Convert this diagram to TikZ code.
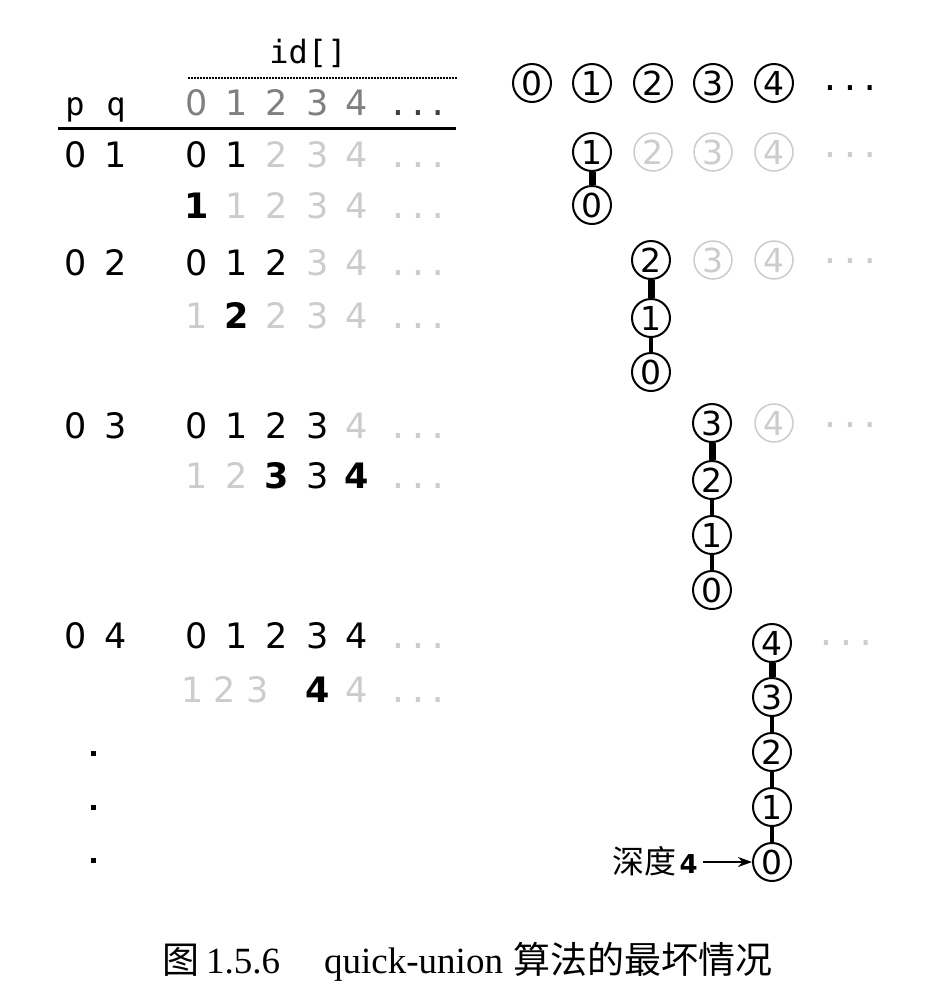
\documentclass[tikz,border=0pt]{standalone}
\usepackage{fontspec}
\usepackage{tikz}
\usetikzlibrary{backgrounds,arrows.meta}
\newfontfamily\tabsans{DejaVu Sans}
\newfontfamily\tabmono{DejaVu Sans Mono}
\newfontfamily\capserif{Liberation Serif}
\newfontfamily\cjk{Noto Sans CJK SC}
\definecolor{faintgray}{gray}{0.8}
\definecolor{headgray}{gray}{0.5}
\pgfdeclarelayer{edgelayer}
\pgfdeclarelayer{nodelayer}
\pgfsetlayers{edgelayer,nodelayer,main}
\tikzstyle{entry}=[anchor=base,inner sep=0pt,font=\tabsans\fontsize{35}{42}\selectfont]
\tikzstyle{faint}=[entry,text=faintgray]
\tikzstyle{changed}=[entry,font=\tabsans\bfseries\fontsize{35}{42}\selectfont]
\tikzstyle{headdigit}=[entry,text=headgray]
\tikzstyle{dots}=[anchor=base,inner sep=0pt,text=faintgray,font=\tabmono\fontsize{33}{40}\selectfont]
\tikzstyle{mono}=[anchor=base,inner sep=0pt,font=\tabmono\fontsize{32}{38}\selectfont]
\tikzstyle{site}=[circle,draw=black,fill=white,line width=2,minimum size=38,inner sep=0pt,font=\tabsans\fontsize{33}{40}\selectfont]
\tikzstyle{faintsite}=[site,draw=faintgray,text=faintgray,line width=1.5]
\tikzstyle{treedots}=[inner sep=0pt,font=\tabmono\fontsize{33}{40}\selectfont]
\tikzstyle{fainttreedots}=[treedots,text=faintgray]
\tikzstyle{vdot}=[rectangle,fill=black,minimum size=5,inner sep=0pt]
\tikzstyle{none}=[inner sep=0pt]
\tikzstyle{newlink}=[-,line width=7]
\tikzstyle{oldlink}=[-,line width=3.5]
\tikzstyle{rule}=[-,line width=3]
\tikzstyle{dotrule}=[-,line width=1.5,dash pattern=on 1.5 off 1.5]
\tikzstyle{depth}=[-{Stealth[length=14pt,width=10pt]},line width=2]
\tikzstyle{caption}=[anchor=base west,inner sep=0pt,font=\capserif\fontsize{37}{44}\selectfont]
\newcommand{\capcjk}{\cjk\fontsize{37}{44}\selectfont}

\begin{document}
\begin{tikzpicture}[x=1pt,y=-1pt]
	\useasboundingbox (0,0) rectangle (948,1005);
	\begin{pgfonlayer}{nodelayer}
		% table head
		\node [style=mono] (id) at (308, 63) {id[]};
		\node [style=none] (dotl) at (188, 78) {};
		\node [style=none] (dotr) at (457, 78) {};
		\node [style=mono] (p) at (75, 115) {p};
		\node [style=mono] (q) at (116, 115) {q};
		\node [style=headdigit] (h0) at (197, 115) {0};
		\node [style=headdigit] (h1) at (237, 115) {1};
		\node [style=headdigit] (h2) at (277, 115) {2};
		\node [style=headdigit] (h3) at (318, 115) {3};
		\node [style=headdigit] (h4) at (357, 115) {4};
		\node [style=dots,text=black!75] (hd) at (418, 115) {...};
		\node [style=none] (rulel) at (58, 128) {};
		\node [style=none] (ruler) at (456, 128) {};

		% 0 1
		\node [style=entry] (p1) at (76, 167) {0};
		\node [style=entry] (q1) at (116, 167) {1};
		\node [style=entry] (a10) at (197, 167) {0};
		\node [style=entry] (a11) at (237, 167) {1};
		\node [style=faint] (a12) at (277, 167) {2};
		\node [style=faint] (a13) at (318, 167) {3};
		\node [style=faint] (a14) at (357, 167) {4};
		\node [style=dots] (a1d) at (418, 167) {...};
		\node [style=changed] (b10) at (197, 218) {1};
		\node [style=faint] (b11) at (237, 218) {1};
		\node [style=faint] (b12) at (277, 218) {2};
		\node [style=faint] (b13) at (318, 218) {3};
		\node [style=faint] (b14) at (357, 218) {4};
		\node [style=dots] (b1d) at (418, 218) {...};

		% 0 2
		\node [style=entry] (p2) at (76, 275) {0};
		\node [style=entry] (q2) at (116, 275) {2};
		\node [style=entry] (a20) at (197, 275) {0};
		\node [style=entry] (a21) at (237, 275) {1};
		\node [style=entry] (a22) at (277, 275) {2};
		\node [style=faint] (a23) at (318, 275) {3};
		\node [style=faint] (a24) at (357, 275) {4};
		\node [style=dots] (a2d) at (418, 275) {...};
		\node [style=faint] (b20) at (197, 328) {1};
		\node [style=changed] (b21) at (237, 328) {2};
		\node [style=faint] (b22) at (277, 328) {2};
		\node [style=faint] (b23) at (318, 328) {3};
		\node [style=faint] (b24) at (357, 328) {4};
		\node [style=dots] (b2d) at (418, 328) {...};

		% 0 3
		\node [style=entry] (p3) at (76, 438) {0};
		\node [style=entry] (q3) at (116, 438) {3};
		\node [style=entry] (a30) at (197, 438) {0};
		\node [style=entry] (a31) at (237, 438) {1};
		\node [style=entry] (a32) at (277, 438) {2};
		\node [style=entry] (a33) at (318, 438) {3};
		\node [style=faint] (a34) at (357, 438) {4};
		\node [style=dots] (a3d) at (418, 438) {...};
		\node [style=faint] (b30) at (197, 488) {1};
		\node [style=faint] (b31) at (237, 488) {2};
		\node [style=changed] (b32) at (277, 488) {3};
		\node [style=entry] (b33) at (318, 488) {3};
		\node [style=changed] (b34) at (357, 488) {4};
		\node [style=dots] (b3d) at (418, 488) {...};

		% 0 4
		\node [style=entry] (p4) at (76, 648) {0};
		\node [style=entry] (q4) at (116, 648) {4};
		\node [style=entry] (a40) at (197, 648) {0};
		\node [style=entry] (a41) at (237, 648) {1};
		\node [style=entry] (a42) at (277, 648) {2};
		\node [style=entry] (a43) at (318, 648) {3};
		\node [style=entry] (a44) at (357, 648) {4};
		\node [style=dots] (a4d) at (418, 648) {...};
		\node [style=faint] (b40) at (193, 702) {1};
		\node [style=faint] (b41) at (225, 702) {2};
		\node [style=faint] (b42) at (258, 702) {3};
		\node [style=changed] (b43) at (318, 702) {4};
		\node [style=faint] (b44) at (357, 702) {4};
		\node [style=dots] (b4d) at (418, 702) {...};

		\node [style=vdot] (v1) at (93, 753) {};
		\node [style=vdot] (v2) at (93, 807) {};
		\node [style=vdot] (v3) at (93, 860) {};

		% forests
		\node [style=site] (s0) at (532, 83) {0};
		\node [style=site] (s1) at (592, 83) {1};
		\node [style=site] (s2) at (653, 83) {2};
		\node [style=site] (s3) at (713, 83) {3};
		\node [style=site] (s4) at (774, 83) {4};
		\node [style=treedots] (sd) at (850, 88) {...};

		\node [style=site] (t11) at (592, 152) {1};
		\node [style=site] (t10) at (592, 205) {0};
		\node [style=faintsite] (g12) at (653, 152) {2};
		\node [style=faintsite] (g13) at (713, 152) {3};
		\node [style=faintsite] (g14) at (774, 152) {4};
		\node [style=fainttreedots] (gd1) at (850, 155) {...};

		\node [style=site] (t22) at (651, 260) {2};
		\node [style=site] (t21) at (651, 318) {1};
		\node [style=site] (t20) at (651, 372) {0};
		\node [style=faintsite] (g23) at (713, 260) {3};
		\node [style=faintsite] (g24) at (774, 260) {4};
		\node [style=fainttreedots] (gd2) at (850, 261) {...};

		\node [style=site] (t33) at (712, 423) {3};
		\node [style=site] (t32) at (712, 480) {2};
		\node [style=site] (t31) at (712, 535) {1};
		\node [style=site] (t30) at (712, 590) {0};
		\node [style=faintsite] (g34) at (774, 423) {4};
		\node [style=fainttreedots] (gd3) at (850, 425) {...};

		\node [style=site] (t44) at (772, 643) {4};
		\node [style=site] (t43) at (772, 697) {3};
		\node [style=site] (t42) at (772, 752) {2};
		\node [style=site] (t41) at (772, 807) {1};
		\node [style=site] (t40) at (772, 862) {0};
		\node [style=fainttreedots] (gd4) at (846, 643) {...};

		\node [style=none,anchor=base east] (dl) at (698, 873) {{\cjk\fontsize{32}{38}\selectfont 深度}\hspace{3pt}{\tabsans\bfseries\fontsize{26}{30}\selectfont 4}};
		\node [style=none] (dtail) at (703, 862) {};

		\node [style=caption] (cap) at (162, 973) {{\capcjk 图}\hspace{7pt}1.5.6\hspace{44pt}quick-union\hspace{10pt}{\capcjk 算法的最坏情况}};
	\end{pgfonlayer}
	\begin{pgfonlayer}{edgelayer}
		\draw [style=dotrule] (dotl.center) to (dotr.center);
		\draw [style=rule] (rulel.center) to (ruler.center);
		\draw [style=newlink] (t11) to (t10);
		\draw [style=newlink] (t22) to (t21);
		\draw [style=oldlink] (t21) to (t20);
		\draw [style=newlink] (t33) to (t32);
		\draw [style=oldlink] (t32) to (t31);
		\draw [style=oldlink] (t31) to (t30);
		\draw [style=newlink] (t44) to (t43);
		\draw [style=oldlink] (t43) to (t42);
		\draw [style=oldlink] (t42) to (t41);
		\draw [style=oldlink] (t41) to (t40);
	\end{pgfonlayer}
	\draw [style=depth] (dtail.center) to (t40);
\end{tikzpicture}
\end{document}
